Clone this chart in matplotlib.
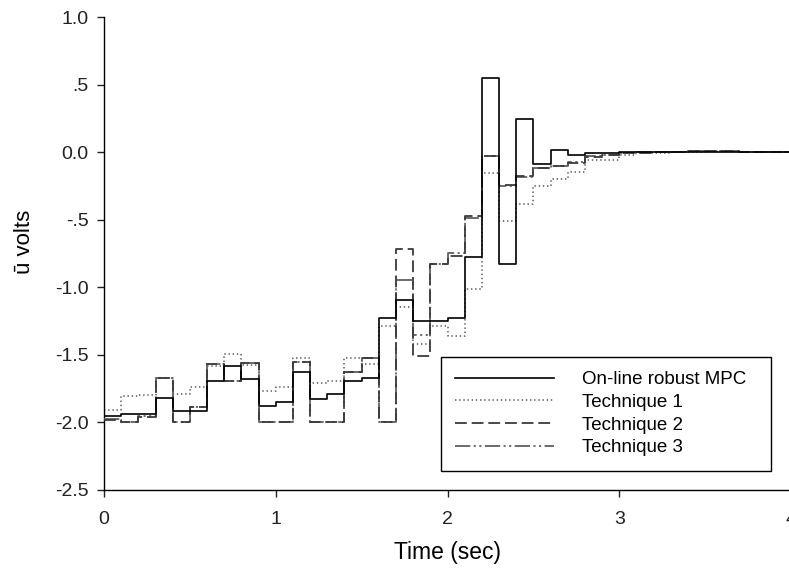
import numpy as np
import matplotlib
matplotlib.use("Agg")
import matplotlib.pyplot as plt

plt.rcParams['font.family'] = ['Liberation Sans', 'DejaVu Sans']
plt.rcParams['lines.scale_dashes'] = False

# time grid (sample instants, 0.1 s)
time = np.round(np.arange(40) * 0.1, 1)

mpc = [-1.955, -1.94, -1.935, -1.82, -1.915, -1.915, -1.695, -1.585, -1.68, -1.875,
       -1.85, -1.63, -1.825, -1.79, -1.69, -1.67, -1.23, -1.095, -1.25, -1.25,
       -1.225, -0.775, 0.545, -0.83, 0.245, -0.085, 0.015, -0.02, -0.005, -0.01,
       0.0, 0.0, 0.0, 0.0, 0.0, 0.0, 0.0, 0.0, 0.0, 0.0]

tech1 = [-1.91, -1.805, -1.80, -1.67, -1.79, -1.74, -1.585, -1.49, -1.575, -1.765,
         -1.735, -1.52, -1.71, -1.69, -1.52, -1.565, -1.285, -1.145, -1.42, -1.29,
         -1.36, -1.01, -0.155, -0.51, -0.385, -0.25, -0.2, -0.15, -0.06, -0.055,
         -0.02, -0.01, -0.005, 0.0, 0.0, 0.005, 0.005, 0.0, 0.0, 0.0]

tech2 = [-1.985, -2.0, -1.96, -1.67, -2.0, -1.885, -1.565, -1.695, -1.56, -2.0,
         -2.0, -1.55, -2.0, -2.0, -1.625, -1.52, -2.0, -0.72, -1.51, -0.83,
         -0.77, -0.47, -0.025, -0.245, -0.18, -0.12, -0.105, -0.08, -0.035, -0.02,
         -0.005, -0.005, 0.0, 0.0, 0.005, 0.005, 0.005, 0.0, 0.0, 0.0]

tech3 = [-1.975, -2.0, -1.955, -1.67, -2.0, -1.885, -1.565, -1.695, -1.56, -2.0,
         -2.0, -1.55, -2.0, -2.0, -1.625, -1.52, -2.0, -0.945, -1.35, -0.83,
         -0.75, -0.49, -0.025, -0.25, -0.185, -0.12, -0.1, -0.075, -0.03, -0.02,
         -0.005, 0.0, 0.0, 0.0, 0.005, 0.005, 0.005, 0.0, 0.0, 0.0]

labels = ["On-line robust MPC", "Technique 1", "Technique 2", "Technique 3"]
xticks = [0, 1, 2, 3, 4]
yticks = [-2.5, -2.0, -1.5, -1.0, -0.5, 0.0, 0.5, 1.0]
yticklabels = ["-2.5", "-2.0", "-1.5", "-1.0", "-.5", "0.0", ".5", "1.0"]

fig = plt.figure(figsize=(7.89, 5.68), dpi=100)
ax = fig.add_axes([104/789, 1 - 490/568, 687/789, 473/568])

t_ext = np.append(time, 4.0)
def ext(v):
    return np.append(v, v[-1])

ax.step(t_ext, ext(tech1), where='post', color='#555555', lw=1.1,
        linestyle=(0, (1.0, 2.0)), label=labels[1], zorder=2)
ax.step(t_ext, ext(tech3), where='post', color='#606060', lw=1.3,
        linestyle=(0, (11, 2.5, 1.5, 2.5, 1.5, 2.5)), label=labels[3], zorder=3)
ax.step(t_ext, ext(tech2), where='post', color='#3a3a3a', lw=1.3,
        linestyle=(0, (8.5, 3.5)), label=labels[2], zorder=4)
ax.step(t_ext, ext(mpc), where='post', color='black', lw=1.2,
        linestyle='-', label=labels[0], zorder=5)

ax.set_xlim(0, 4)
ax.set_ylim(-2.5, 1.0)
ax.set_xticks(xticks)
ax.set_xticklabels([str(x) for x in xticks])
ax.set_yticks(yticks)
ax.set_yticklabels(yticklabels)
ax.tick_params(direction='out', length=5, width=1, labelsize=14, colors='#222222')
ax.tick_params(axis='y', pad=6)
ax.tick_params(axis='x', pad=10)
for s in ['top', 'right']:
    ax.spines[s].set_visible(False)
for s in ['left', 'bottom']:
    ax.spines[s].set_linewidth(1.0)

ax.set_xlabel("Time (sec)", fontsize=16.5)
ax.xaxis.set_label_coords(0.5, -0.108)
ax.set_ylabel("ū volts", fontsize=16)
ax.yaxis.set_label_coords(-0.100, 0.525)

h, l = ax.get_legend_handles_labels()
hd = dict(zip(l, h))
leg = fig.legend([hd[x] for x in labels], labels,
                 loc='upper left',
                 bbox_to_anchor=(441/789, 0.169, 330/789, 1 - 357/568 - 0.169),
                 mode='expand', borderaxespad=0, fontsize=13.5,
                 handlelength=5.3, handletextpad=1.45, labelspacing=0.3,
                 borderpad=0.75, fancybox=False, framealpha=1,
                 edgecolor='black')
leg.get_frame().set_linewidth(1.0)

fig.savefig("out.png", dpi=100)
